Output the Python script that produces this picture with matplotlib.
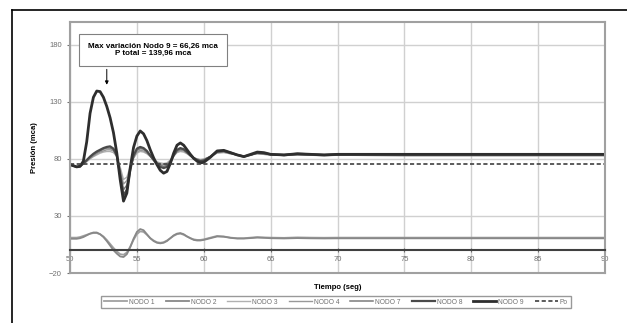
"""
Transitorio de presión en los nodos de la red (Presión vs. Tiempo).
"""

import matplotlib
matplotlib.use("Agg")
import matplotlib.pyplot as plt
from matplotlib.lines import Line2D

plt.rcParams['font.family'] = ['Liberation Sans', 'DejaVu Sans']

# Tiempo (seg)
tiempo = [50, 50.25, 50.5, 50.75, 51, 51.25, 51.5, 51.75, 52, 52.25, 52.5, 52.75,
          53, 53.25, 53.5, 53.75, 54, 54.25, 54.5, 54.75, 55, 55.25, 55.5, 55.75,
          56, 56.25, 56.5, 56.75, 57, 57.25, 57.5, 57.75, 58, 58.25, 58.5, 58.75,
          59, 59.25, 59.5, 59.75, 60,
          60.5, 61, 61.5, 62, 62.5, 63, 63.5, 64, 64.5, 65,
          66, 67, 68, 69, 70, 75, 80, 85, 90]

# Presión (mca) por nodo
nodo_1 = [11, 11, 11, 11.5, 12.5, 13.5, 14.5, 15, 15, 14, 12, 9,
          5.5, 2, -1, -3.5, -4, -2, 3, 9, 14, 16.5, 16, 13.5,
          10.5, 8.5, 7, 6.5, 7, 8.5, 10.5, 12.5, 14, 14.5, 13.5, 12,
          10.5, 9.5, 9, 9, 9.5,
          11, 12.5, 12, 11, 10.5, 10.5, 11, 11.5, 11.2, 11,
          10.8, 11.2, 11, 10.9, 11, 11, 11, 11, 11]
nodo_2 = [10, 10, 10, 10.5, 11.5, 13, 14.5, 15.5, 15.5, 14, 11.5, 8,
          4, 0, -3, -5.5, -6, -3.5, 2.5, 10, 16, 18.5, 17.5, 14,
          10.5, 8, 6.5, 6, 6.5, 8, 10.5, 13, 14.5, 15, 14, 12,
          10.5, 9, 8.5, 8.5, 9,
          10.5, 12, 11.8, 10.8, 10.2, 10.2, 10.6, 11, 10.8, 10.5,
          10.3, 10.6, 10.4, 10.3, 10.4, 10.4, 10.4, 10.4, 10.4]
nodo_3 = [75, 74, 73, 73.5, 75.5, 77.5, 80, 82, 83.5, 85, 86, 86.5,
          86.5, 85.5, 82, 73, 62, 64, 73, 80.5, 85, 86.5, 86, 84.5,
          82, 79.5, 77.5, 76.5, 76, 76.5, 79, 82.5, 85.5, 86.5, 86, 84.5,
          82.5, 81, 80, 79.5, 80,
          82, 85, 85.5, 84.5, 83.5, 82.5, 83.5, 84.5, 84, 83.5,
          83, 83.5, 83.2, 83, 83.2, 83, 83, 83, 83]
nodo_4 = [75, 74, 73, 73.5, 75.5, 78, 80.5, 82.5, 84.5, 86, 87, 88,
          88, 87, 82.5, 71, 58, 61, 72, 81, 86, 87.5, 87, 85,
          82.5, 79.5, 77, 75.5, 75, 75.5, 78.5, 82.5, 86, 87.5, 87, 85,
          83, 81, 80, 79, 79.5,
          82, 85.5, 86, 84.5, 83.5, 82.5, 83.5, 84.5, 84, 83.5,
          83, 83.5, 83.2, 83, 83.2, 83, 83, 83, 83]
nodo_7 = [75, 74, 73, 73.5, 76, 78.5, 81, 83.5, 85.5, 87, 88.5, 89.5,
          89.5, 88, 83, 69, 53, 57, 71, 82, 87.5, 89, 88.5, 86,
          83, 79.5, 76.5, 74.5, 73.5, 74.5, 78, 83, 87, 88.5, 88, 85.5,
          83, 81, 79.5, 78.5, 79,
          82, 86, 86.5, 85, 83.5, 82.5, 83.5, 85, 84.5, 84,
          83, 83.8, 83.3, 83, 83.3, 83, 83, 83, 83]
nodo_8 = [75, 74, 73, 73.5, 76, 79, 82, 84.5, 86.5, 88, 89.5, 90.5,
          91, 89, 83, 66, 48, 53, 70, 83, 89, 90.5, 89.5, 87,
          83, 79, 75.5, 73, 72, 73, 77, 83, 88, 89.5, 88.5, 86,
          83, 80.5, 79, 78, 78.5,
          82, 86.5, 87, 85.5, 83.5, 82, 83.5, 85.5, 85, 84,
          83.5, 84.5, 84, 83.5, 84, 84, 84, 84, 84]
nodo_9 = [75, 74, 73, 73.5, 78, 95, 120, 134, 139.5, 139, 134, 126,
          116, 103, 85, 62, 43, 50, 72, 90, 100, 104.5, 102, 96,
          88, 81, 75, 70, 67.5, 69, 76, 85, 92, 94, 92, 88,
          84, 80.5, 78, 76.5, 77,
          81.5, 87, 87.5, 85.5, 83.5, 82, 84, 86, 85.5, 84,
          83.5, 84.5, 84, 83.5, 84, 84, 84, 84, 84]

# Presión estática de referencia
tiempo_po = [50, 90]
presion_po = [75.5, 75.5]

series = [
    ("NODO 1", nodo_1, "#a0a0a0", 1.3),
    ("NODO 2", nodo_2, "#888888", 1.3),
    ("NODO 3", nodo_3, "#b0b0b0", 1.0),
    ("NODO 4", nodo_4, "#989898", 1.0),
    ("NODO 7", nodo_7, "#7a7a7a", 1.1),
    ("NODO 8", nodo_8, "#4a4a4a", 1.6),
    ("NODO 9", nodo_9, "#2e2e2e", 2.0),
]

fig = plt.figure(figsize=(6.27, 3.23), dpi=100)
ax = fig.add_axes([70 / 627, 1 - 273 / 323, 535 / 627, 251 / 323])

# Grid
ax.set_xlim(50, 90)
ax.set_ylim(-20, 200)
ax.set_xticks(range(50, 91, 5))
ax.set_yticks([-20, 30, 80, 130, 180])
ax.grid(True, color="#d0d0d0", linewidth=1.0)
ax.set_axisbelow(True)

for nombre, valores, color, lw in series:
    ax.plot(tiempo, valores, color=color, linewidth=lw, label=nombre)
ax.plot(tiempo_po, presion_po, color="#404040", linewidth=1.2,
        linestyle=(0, (2.5, 1.5)), label="Po")

# Eje X cruzando en cero
ax.spines['bottom'].set_position(('data', 0))
ax.spines['bottom'].set_color("#404040")
ax.spines['bottom'].set_linewidth(1.5)
ax.axhline(-20, color="#a0a0a0", linewidth=1.5, clip_on=False)
for lado in ('left', 'right', 'top'):
    ax.spines[lado].set_color("#a0a0a0")
    ax.spines[lado].set_linewidth(1.5)

ax.tick_params(axis='both', labelsize=5.5, labelcolor="#707070",
               length=2.5, color="#707070")
ax.tick_params(axis='x', direction='inout', pad=3)

ax.set_ylabel("Presión (mca)", fontsize=5.5, fontweight='bold', labelpad=8)
ax.text(0.5, -0.045, "Tiempo (seg)", transform=ax.transAxes,
        ha='center', va='top', fontsize=5.5, fontweight='bold')

# Anotación
ax.text(56.2, 175.5, "Max variación Nodo 9 = 66,26 mca\nP total = 139,96 mca",
        ha='center', va='center', fontsize=5.8, fontweight='bold',
        linespacing=1.0,
        bbox=dict(boxstyle='square,pad=1.1', fc='white', ec='#808080', lw=0.8))
ax.annotate("", xy=(52.75, 145), xytext=(52.75, 158.5),
            arrowprops=dict(arrowstyle='-|>', color='black', lw=0.7,
                            mutation_scale=5, shrinkA=0, shrinkB=0))

# Leyenda
handles, labels = ax.get_legend_handles_labels()
leg = fig.legend(handles, labels, loc='center', ncol=8,
                 bbox_to_anchor=(336 / 627, 1 - 302 / 323),
                 fontsize=4.8, frameon=True, fancybox=False,
                 handlelength=3.5, handletextpad=0.3, columnspacing=1.6,
                 borderpad=0.4)
leg.get_frame().set_edgecolor("#808080")
leg.get_frame().set_linewidth(1.0)
for texto in leg.get_texts():
    texto.set_color("#707070")

# Marco de la página
fig.add_artist(Line2D([12 / 627, 1], [1 - 10 / 323, 1 - 10 / 323],
                      transform=fig.transFigure, color='black', linewidth=1.2))
fig.add_artist(Line2D([12 / 627, 12 / 627], [0, 1 - 10 / 323],
                      transform=fig.transFigure, color='black', linewidth=1.2))

fig.savefig("out.png", dpi=100)
